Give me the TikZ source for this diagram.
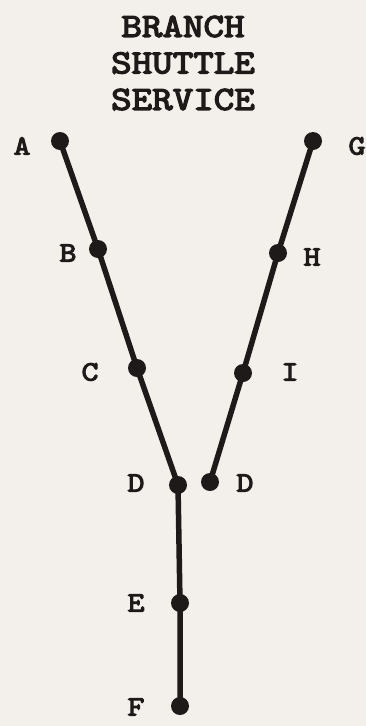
\documentclass[tikz,border=0pt]{standalone}
\usepackage{fontspec}
\newfontfamily\cour{lmmono10-regular.otf}[FakeBold=3.5]
\definecolor{bg}{HTML}{F3F0EB}
\definecolor{ink}{HTML}{1E1A1A}
\newcommand\widetxt[1]{\scalebox{1.15}[1]{#1}}
\begin{document}
\begin{tikzpicture}[x=1pt,y=-1pt,
  stop/.style={circle,fill=ink,inner sep=0pt,minimum size=18pt},
  lab/.style={font=\fontsize{28}{28}\selectfont\cour,text=ink,inner sep=0pt,anchor=center},
  track/.style={line width=5.5pt,draw=ink}]
\fill[bg] (0,0) rectangle (366,726);
\useasboundingbox (0,0) rectangle (366,726);
\node[font=\fontsize{34}{36.5}\selectfont\cour,text=ink,align=center,inner sep=0pt] (title) at (183,63) {\widetxt{BRANCH}\\\widetxt{SHUTTLE}\\\widetxt{SERVICE}};
\node[stop] (A) at (60,141) {};
\node[stop] (B) at (98,249) {};
\node[stop] (C) at (137,368) {};
\node[stop] (D1) at (178,485) {};
\node[stop] (E) at (180,603) {};
\node[stop] (F) at (180,706) {};
\node[stop] (G) at (313,141) {};
\node[stop] (H) at (278,253) {};
\node[stop] (I) at (243,373) {};
\node[stop] (D2) at (210,482) {};
\draw[track] (A.center) -- (B.center) -- (C.center) -- (D1.center) -- (E.center) -- (F.center);
\draw[track] (G.center) -- (H.center) -- (I.center) -- (D2.center);
\node[lab] (lA) at (22,146) {\widetxt{A}};
\node[lab] (lB) at (68,253) {\widetxt{B}};
\node[lab] (lC) at (90,372) {\widetxt{C}};
\node[lab] (lD1) at (136,483) {\widetxt{D}};
\node[lab] (lE) at (136,603) {\widetxt{E}};
\node[lab] (lF) at (136,707) {\widetxt{F}};
\node[lab] (lG) at (357,146) {\widetxt{G}};
\node[lab] (lH) at (312,257) {\widetxt{H}};
\node[lab] (lI) at (290,372) {\widetxt{I}};
\node[lab] (lD2) at (245,483) {\widetxt{D}};
\end{tikzpicture}
\end{document}
